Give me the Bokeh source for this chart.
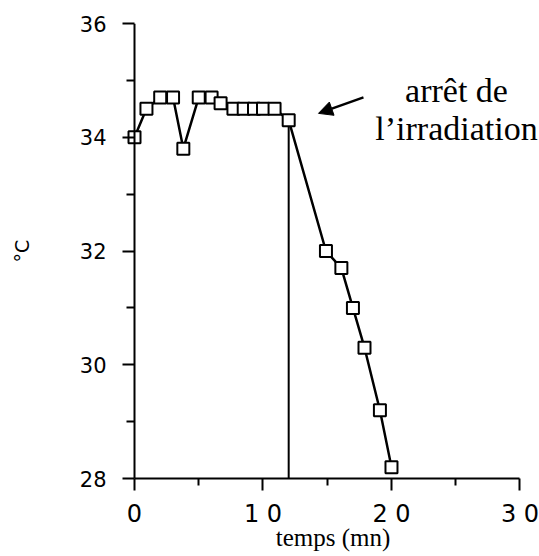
from bokeh.plotting import figure
from bokeh.models import Range1d, FixedTicker, Arrow, NormalHead, Span
from bokeh.core.properties import value
from bokeh.embed import file_html
from bokeh.resources import INLINE

# --- data ---
time_min = [0, 0.93, 2.0, 3.0, 3.8, 5.0, 6.0, 6.7, 7.7, 8.5, 9.3, 10.0, 10.9, 12.0,
            14.9, 16.1, 17.0, 17.9, 19.1, 20.0]
temp_c = [34.0, 34.5, 34.7, 34.7, 33.8, 34.7, 34.7, 34.6, 34.5, 34.5, 34.5, 34.5, 34.5, 34.3,
          32.0, 31.7, 31.0, 30.3, 29.2, 28.2]
stop_time = 12.0
stop_index = 13

x_major = [0, 10, 20, 30]
x_minor = [5, 15, 25]
x_labels = ["0", "1 0", "2 0", "3 0"]
y_major = [28, 30, 32, 34, 36]
y_minor = [29, 31, 33, 35]
y_labels = ["28", "30", "32", "34", "36"]

note_lines = ["arrêt de", "l\u2019irradiation"]
x_title = "temps (mn)"
y_title = "°C"

p = figure(width=539, height=556, output_backend="svg", toolbar_location=None,
           x_range=Range1d(-0.623, 31.52), y_range=Range1d(28, 36),
           min_border_left=126, min_border_right=0, min_border_top=23, min_border_bottom=78)
p.grid.visible = False
p.outline_line_color = None
p.background_fill_color = "white"
p.border_fill_color = "white"

# x axis
xa = p.xaxis[0]
xa.ticker = FixedTicker(ticks=x_major, minor_ticks=x_minor)
xa.major_label_overrides = {t: l for t, l in zip(x_major, x_labels)}
xa.bounds = (x_major[0], x_major[-1])
xa.axis_label = x_title
xa.axis_label_text_font = "Liberation Serif"
xa.axis_label_text_font_style = "normal"
xa.axis_label_text_font_size = "25px"
xa.axis_label_standoff = -7
xa.major_label_text_font = "DejaVu Sans"
xa.major_label_text_font_size = "24px"
xa.major_label_standoff = 9
xa.axis_line_width = 2
xa.major_tick_in = 0
xa.major_tick_out = 12
xa.minor_tick_in = 0
xa.minor_tick_out = 7

# y axis: drawn at the frame edge, its line replaced by a line at x = 0
ya = p.yaxis[0]
ya.ticker = FixedTicker(ticks=y_major, minor_ticks=y_minor)
ya.major_label_overrides = {t: l for t, l in zip(y_major, y_labels)}
ya.axis_label = y_title
ya.axis_label_text_font = "DejaVu Sans"
ya.axis_label_text_font_style = "normal"
ya.axis_label_text_font_size = "19px"
ya.axis_label_standoff = 44
ya.major_label_text_font = "DejaVu Sans"
ya.major_label_text_font_size = "21px"
ya.major_label_standoff = 16
ya.major_label_orientation = "horizontal"
ya.major_tick_in = 8
ya.major_tick_out = 4
ya.minor_tick_in = 8
ya.minor_tick_out = 0

for ax in (xa, ya):
    ax.axis_line_color = "black" if ax is xa else None
    ax.major_tick_line_width = 2
    ax.minor_tick_line_width = 2
    ax.major_tick_line_color = "black"
    ax.minor_tick_line_color = "black"
    ax.major_label_text_color = "black"
    ax.axis_label_text_color = "black"

p.add_layout(Span(location=x_major[0], dimension="height", line_color="black", line_width=2))

# vertical line at the end of irradiation
p.segment(x0=[stop_time], y0=[y_major[0]], x1=[stop_time], y1=[temp_c[stop_index]],
          line_color="black", line_width=2)

# data
p.line(time_min, temp_c, line_color="black", line_width=2.5)
p.scatter(time_min, temp_c, marker="square", size=12, fill_color="white",
          line_color="black", line_width=2)

# annotation
p.text(x=[25.06, 25.06], y=[34.82, 34.155], text=note_lines, text_align="center",
       text_baseline="alphabetic", text_font=value("Liberation Serif"),
       text_font_size="34px", text_color="black")
p.add_layout(Arrow(end=NormalHead(size=14, fill_color="black", line_color="black"),
                   x_start=17.82, y_start=34.70, x_end=14.32, y_end=34.42,
                   line_color="black", line_width=2.5))

open("out.html", "w").write(file_html(p, INLINE))
